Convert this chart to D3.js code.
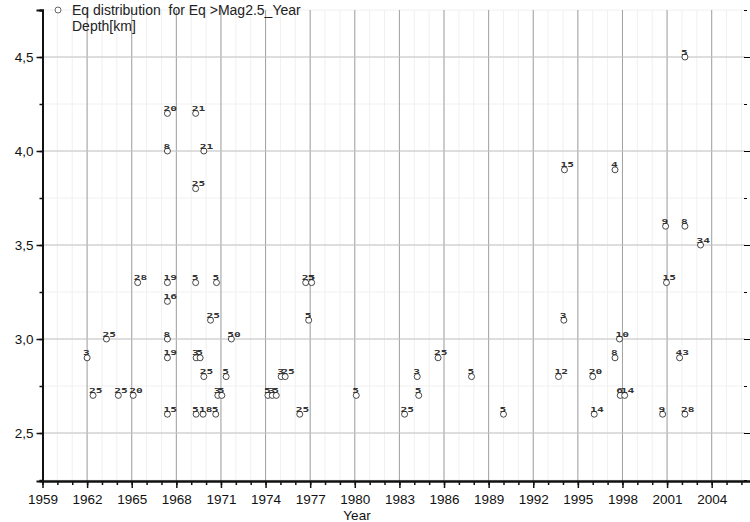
<!DOCTYPE html>
<html>
<head>
<meta charset="utf-8">
<script src="https://cdn.jsdelivr.net/npm/d3@7"></script>
<style>
  html, body { margin: 0; padding: 0; background: #fff; }
  svg { display: block; }
</style>
</head>
<body>
<div id="chart"></div>
<script>
'use strict';

// Earthquake events: year, magnitude, depth label [km]
const years = [
    1962.0, 1962.4, 1963.3, 1964.1, 1965.1, 1965.4,
    1967.4, 1967.4, 1967.4, 1967.4, 1967.4, 1967.4, 1967.4,
    1969.3, 1969.3, 1969.85, 1969.3, 1969.33, 1969.6, 1969.85, 1969.33, 1969.8,
    1970.3, 1970.7, 1970.65, 1970.79, 1971.06, 1971.35, 1971.7,
    1974.16, 1974.45, 1974.72, 1975.05, 1975.32, 1976.3, 1976.7, 1976.9, 1977.1,
    1980.1, 1983.35, 1984.2, 1984.3, 1985.6, 1987.85, 1990.0,
    1993.7, 1994.06, 1994.1, 1996.0, 1996.1, 1997.5, 1997.5, 1997.8, 1997.85, 1998.15,
    2000.7, 2000.9, 2000.96, 2001.84, 2002.2, 2002.2, 2002.2, 2003.25
];
const mags = [
    2.9, 2.7, 3.0, 2.7, 2.7, 3.3,
    4.2, 4.0, 3.3, 3.2, 3.0, 2.9, 2.6,
    4.2, 3.8, 4.0, 3.3, 2.9, 2.9, 2.8, 2.6, 2.6,
    3.1, 3.3, 2.6, 2.7, 2.7, 2.8, 3.0,
    2.7, 2.7, 2.7, 2.8, 2.8, 2.6, 3.3, 3.1, 3.3,
    2.7, 2.6, 2.8, 2.7, 2.9, 2.8, 2.6,
    2.8, 3.1, 3.9, 2.8, 2.6, 3.9, 2.9, 3.0, 2.7, 2.7,
    2.6, 3.6, 3.3, 2.9, 4.5, 3.6, 2.6, 3.5
];
const depths = [
    '3', '25', '25', '25', '20', '28',
    '20', '8', '19', '16', '8', '19', '15',
    '21', '25', '21', '5', '3', '5', '25', '5', '18',
    '25', '5', '5', '3', '5', '5', '50',
    '5', '3', '5', '3', '25', '25', '25', '5', '5',
    '5', '25', '3', '5', '25', '5', '5',
    '12', '3', '15', '20', '14', '4', '8', '10', '6', '14',
    '9', '9', '15', '43', '5', '8', '28', '34'
];

const xMajor = d3.range(1959, 2005, 3);
const xMinor = d3.range(1959, 2007, 1);
const yMajor = [2.5, 3.0, 3.5, 4.0, 4.5];
const yMinor = [2.25, 2.5, 2.75, 3.0, 3.25, 3.5, 3.75, 4.0, 4.25, 4.5, 4.75];

const legendTitle = 'Eq distribution  for Eq >Mag2.5_Year';
const legendSub = 'Depth[km]';
const xTitle = 'Year';

const W = 750, H = 522;
const L = 42.5, R = 745, T = 10, B = 481;

const svg = d3.select('#chart').append('svg')
    .attr('width', W)
    .attr('height', H)
    .attr('viewBox', `0 0 ${W} ${H}`);

const x = d3.scaleLinear().domain([1959, 2006.24]).range([L, R]);
const y = d3.scaleLinear().domain([2.2447, 4.75]).range([B, T]);

const fmt = d => d3.format('.1f')(d).replace('.', ',');

// faint minor grid
svg.append('g')
    .selectAll('line')
    .data(xMinor)
    .join('line')
    .attr('x1', d => x(d)).attr('x2', d => x(d))
    .attr('y1', T).attr('y2', B)
    .attr('stroke', '#f0f0f0');
svg.append('g')
    .selectAll('line')
    .data(yMinor)
    .join('line')
    .attr('x1', L).attr('x2', R)
    .attr('y1', d => y(d)).attr('y2', d => y(d))
    .attr('stroke', '#f0f0f0');

// major grid
svg.append('g')
    .selectAll('line')
    .data(xMajor.slice(1))
    .join('line')
    .attr('x1', d => x(d)).attr('x2', d => x(d))
    .attr('y1', T).attr('y2', B)
    .attr('stroke', '#a0a0a0');
svg.append('g')
    .selectAll('line')
    .data(yMajor)
    .join('line')
    .attr('x1', L).attr('x2', R)
    .attr('y1', d => y(d)).attr('y2', d => y(d))
    .attr('stroke', '#c4c4c4');

// left axis
const yAxisMinor = svg.append('g')
    .attr('transform', `translate(${L},0)`)
    .call(d3.axisLeft(y).tickValues(yMinor).tickSize(3).tickFormat(''));
const yAxis = svg.append('g')
    .attr('transform', `translate(${L},0)`)
    .call(d3.axisLeft(y).tickValues(yMajor).tickSize(6).tickPadding(3).tickFormat(fmt));

// right ticks
svg.append('g')
    .attr('transform', `translate(${R - 1},0)`)
    .call(d3.axisRight(y).tickValues(yMinor).tickSize(3).tickFormat(''))
    .call(g => g.select('.domain').remove());
svg.append('g')
    .attr('transform', `translate(${R - 1},0)`)
    .call(d3.axisRight(y).tickValues(yMajor).tickSize(6).tickFormat(''))
    .call(g => g.select('.domain').remove());

// bottom axis
const xAxisMinor = svg.append('g')
    .attr('transform', `translate(0,${B})`)
    .call(d3.axisBottom(x).tickValues(xMinor).tickSize(4).tickFormat(''));
const xAxis = svg.append('g')
    .attr('transform', `translate(0,${B})`)
    .call(d3.axisBottom(x).tickValues(xMajor).tickSize(7).tickPadding(6).tickFormat(d3.format('d')));

[yAxis, yAxisMinor, xAxis, xAxisMinor].forEach(g => {
    g.select('.domain').attr('stroke', '#111').attr('stroke-width', 2);
    g.selectAll('.tick line').attr('stroke', '#111').attr('stroke-width', 1.5);
    g.selectAll('text')
        .attr('fill', '#111')
        .attr('font-family', "'Liberation Sans', Arial, sans-serif")
        .attr('font-size', 13.5);
});
xAxis.select('.domain').attr('d', `M${L},0.5H${W}`);
xAxisMinor.select('.domain').attr('d', `M${L},0.5H${W}`);

svg.append('text')
    .attr('x', 357)
    .attr('y', 520)
    .attr('text-anchor', 'middle')
    .attr('font-family', "'Liberation Sans', Arial, sans-serif")
    .attr('font-size', 13.5)
    .attr('fill', '#111')
    .text(xTitle);

// data points
const pts = years.map((yr, i) => ({ yr, mag: mags[i], depth: depths[i] }));

svg.append('g')
    .selectAll('circle')
    .data(pts)
    .join('circle')
    .attr('cx', d => x(d.yr))
    .attr('cy', d => y(d.mag))
    .attr('r', 3)
    .attr('fill', '#fff')
    .attr('stroke', '#333')
    .attr('stroke-width', 0.9);

svg.append('g')
    .selectAll('text')
    .data(pts)
    .join('text')
    .attr('transform', d => `translate(${x(d.yr) - 4},${y(d.mag) - 2.5}) scale(1.4,0.8)`)
    .attr('font-family', "'DejaVu Sans Mono', monospace")
    .attr('font-weight', 'bold')
    .attr('font-size', 8)
    .attr('fill', '#333')
    .text(d => d.depth);

// legend
svg.append('circle')
    .attr('cx', 58).attr('cy', 10).attr('r', 3)
    .attr('fill', '#fff').attr('stroke', '#555').attr('stroke-width', 0.9);
svg.append('text')
    .attr('x', 72).attr('y', 15)
    .attr('font-family', "'Liberation Sans', Arial, sans-serif")
    .attr('font-size', 14)
    .attr('fill', '#222')
    .style('white-space', 'pre')
    .text(legendTitle);
svg.append('text')
    .attr('x', 72).attr('y', 31)
    .attr('font-family', "'Liberation Sans', Arial, sans-serif")
    .attr('font-size', 14)
    .attr('fill', '#222')
    .text(legendSub);
</script>
</body>
</html>
